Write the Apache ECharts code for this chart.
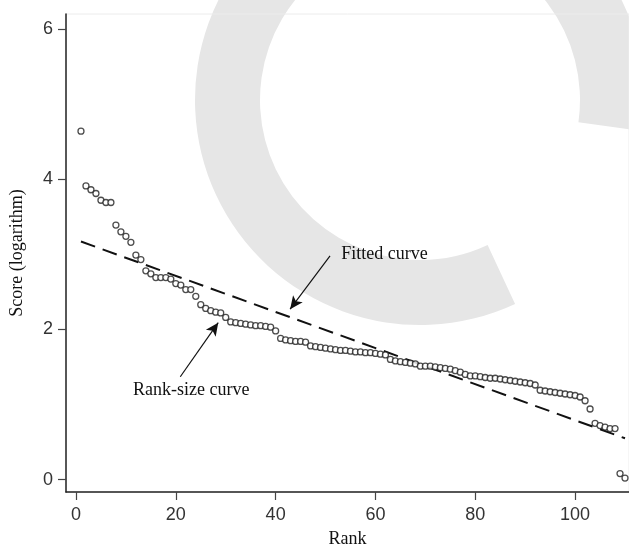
<!DOCTYPE html>
<html>
<head>
<meta charset="utf-8">
<script src="https://cdn.jsdelivr.net/npm/echarts@6/dist/echarts.min.js"></script>
<style>
html,body{margin:0;padding:0;background:#fff;}
#main{width:629px;height:553px;}
</style>
</head>
<body>
<div id="main"></div>
<script>
// score (log) by rank, rank = position + 1
var scores = [
	4.64, 3.91, 3.86, 3.81, 3.72, 3.69, 3.69, 3.39, 3.30, 3.24,
	3.16, 2.99, 2.93, 2.78, 2.74, 2.69, 2.69, 2.69, 2.67, 2.61,
	2.59, 2.53, 2.53, 2.44, 2.33, 2.28, 2.25, 2.23, 2.22, 2.16,
	2.10, 2.09, 2.08, 2.07, 2.06, 2.05, 2.05, 2.04, 2.03, 1.98,
	1.88, 1.86, 1.85, 1.84, 1.84, 1.83, 1.78, 1.77, 1.76, 1.75,
	1.74, 1.73, 1.72, 1.72, 1.71, 1.70, 1.70, 1.69, 1.69, 1.68,
	1.67, 1.66, 1.60, 1.58, 1.57, 1.56, 1.55, 1.54, 1.51, 1.51,
	1.51, 1.50, 1.49, 1.48, 1.47, 1.45, 1.43, 1.40, 1.38, 1.38,
	1.37, 1.36, 1.35, 1.35, 1.34, 1.33, 1.32, 1.31, 1.30, 1.29,
	1.28, 1.26, 1.19, 1.18, 1.17, 1.16, 1.15, 1.14, 1.13, 1.12,
	1.10, 1.05, 0.94, 0.75, 0.72, 0.70, 0.68, 0.68, 0.08, 0.02
];
var fitRanks = [1, 110];
var fitScores = [3.17, 0.55];
var xTicks = [0, 20, 40, 60, 80, 100];
var yTicks = [0, 2, 4, 6];

var points = scores.map(function(v, i) { return [i + 1, v]; });
var fitLine = fitRanks.map(function(r, i) { return [r, fitScores[i]]; });

var chart = echarts.init(document.getElementById('main'));
var serif = '"Liberation Serif", "DejaVu Serif", serif';
var sans = '"Liberation Sans", Arial, sans-serif';

var option = {
	animation: false,
	backgroundColor: '#fff',
	grid: {left: 66, right: 0, top: 14, bottom: 57, show: true, borderColor: '#ececec', borderWidth: 1},
	xAxis: {
		type: 'value', min: -2, max: 110.8,
		name: 'Rank', nameLocation: 'middle', nameGap: 38,
		nameTextStyle: {fontFamily: serif, fontSize: 18, color: '#111'},
		axisLine: {onZero: false, lineStyle: {color: '#222', width: 1.5}},
		axisTick: {length: 8, lineStyle: {color: '#444', width: 1.2}, customValues: xTicks},
		axisLabel: {margin: 14, fontFamily: sans, fontSize: 18, color: '#333', customValues: xTicks},
		splitLine: {show: false}
	},
	yAxis: {
		type: 'value', min: -0.165, max: 6.2,
		name: 'Score (logarithm)', nameLocation: 'middle', nameGap: 40,
		nameTextStyle: {fontFamily: serif, fontSize: 18, color: '#111'},
		axisLine: {show: true, onZero: false, lineStyle: {color: '#222', width: 1.5}},
		axisTick: {show: true, length: 8, lineStyle: {color: '#444', width: 1.2}, customValues: yTicks},
		axisLabel: {margin: 13, fontFamily: sans, fontSize: 18, color: '#333', customValues: yTicks},
		splitLine: {show: false}
	},
	series: [{
		type: 'scatter',
		data: points,
		symbol: 'circle', symbolSize: 6,
		clip: false,
		itemStyle: {color: '#fff', borderColor: '#222', borderWidth: 1.3},
		z: 3
	}, {
		type: 'line',
		data: fitLine,
		symbol: 'none',
		lineStyle: {color: '#111', width: 2, type: [15, 8]},
		z: 2,
		markLine: {
			silent: true,
			symbol: ['none', 'arrow'],
			symbolSize: [9, 13],
			label: {show: false},
			lineStyle: {color: '#111', width: 1.2, type: 'solid'},
			data: [
				[{coord: [50.9, 2.98]}, {coord: [42.9, 2.27]}],
				[{coord: [20.9, 1.37]}, {coord: [28.5, 2.09]}]
			]
		}
	}]
};
chart.setOption(option);

// watermark behind the plot, annotation texts anchored in data space
var p1 = chart.convertToPixel({gridIndex: 0}, [61.8, 3.0]);
var p2 = chart.convertToPixel({gridIndex: 0}, [23.1, 1.19]);
chart.setOption({
	graphic: [{
		id: 'mark', type: 'sector', z: -10, silent: true,
		shape: {cx: 420, cy: 100, r0: 160, r: 225, startAngle: Math.PI * 65 / 180, endAngle: Math.PI * 368 / 180, clockwise: true},
		style: {fill: '#e6e6e6'}
	}, {
		id: 'fitText', type: 'text', x: p1[0], y: p1[1],
		style: {text: 'Fitted curve', font: '18px ' + serif, fill: '#111', align: 'center', verticalAlign: 'middle'}
	}, {
		id: 'rankText', type: 'text', x: p2[0], y: p2[1],
		style: {text: 'Rank-size curve', font: '18px ' + serif, fill: '#111', align: 'center', verticalAlign: 'middle'}
	}]
});
</script>
</body>
</html>
